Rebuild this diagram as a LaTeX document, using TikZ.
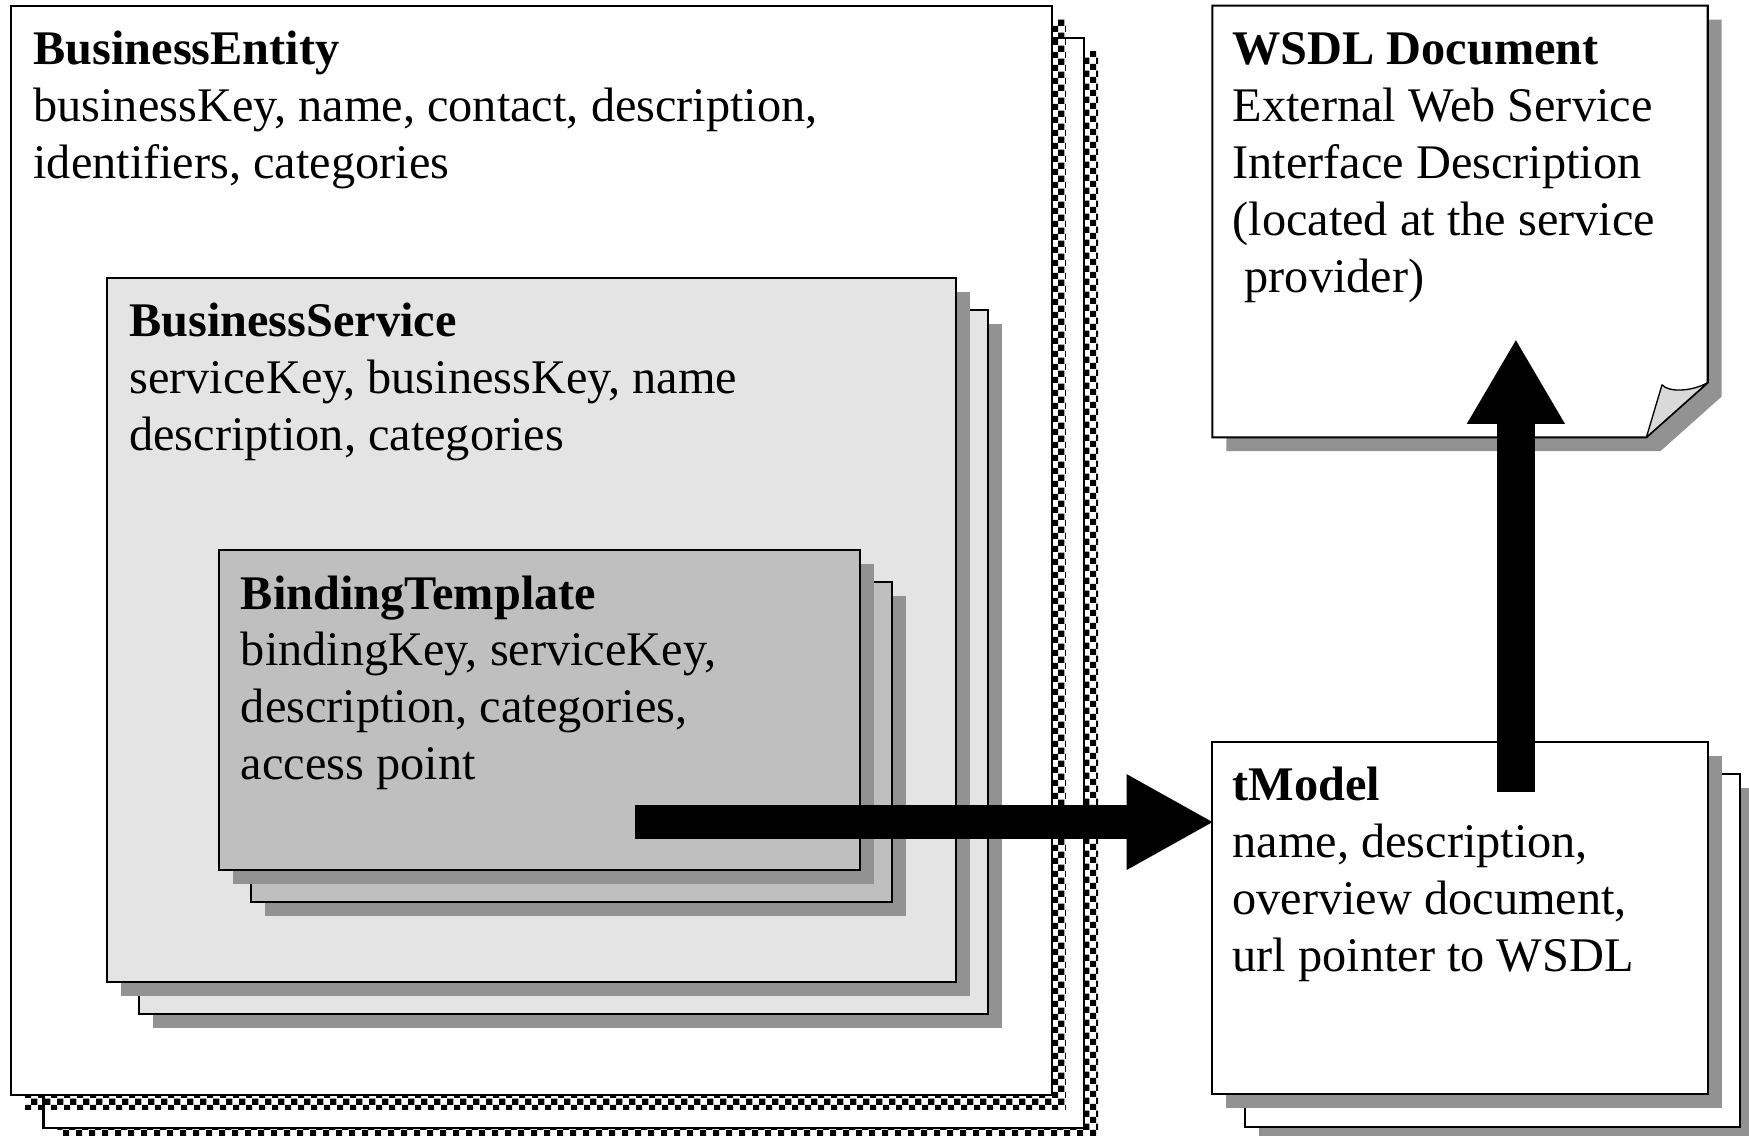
\documentclass[tikz,border=0pt]{standalone}
\usepackage{fontspec}
\setmainfont{Liberation Serif}
\usetikzlibrary{arrows.meta,patterns,shadows}
\definecolor{svcgray}{RGB}{228,228,228}
\definecolor{bindgray}{RGB}{190,191,190}
\definecolor{shgray}{RGB}{146,146,146}
\definecolor{flapgray}{RGB}{217,217,217}
\begin{document}
\begin{tikzpicture}[x=1pt,y=-1pt,
  box/.style={draw=black, line width=1.8pt, anchor=north west, inner sep=0pt, outer sep=0pt},
  grayshadow/.style={general shadow={shadow xshift=12.5pt, shadow yshift=-12.5pt, fill=shgray}},
  checkshadow/.style={general shadow={shadow xshift=12.5pt, shadow yshift=-12.5pt, pattern=checkerboard, pattern color=black}},
  txt/.style={anchor=base west, inner sep=0pt, outer sep=0pt, font=\fontsize{43.3}{51}\selectfont},
  blockarrow/.style={draw=black, line width=#1}
]
\useasboundingbox (0,0) rectangle (1568,1018);

% BusinessEntity stack
\node[box, fill=white, checkshadow, minimum width=933pt, minimum height=977pt] (beback) at (39,34) {};
\node[box, fill=white, checkshadow, minimum width=933pt, minimum height=977pt] (be) at (10,5) {};

% BusinessService stack
\node[box, fill=svcgray, grayshadow, minimum width=761pt, minimum height=631pt] (bsback) at (125,278) {};
\node[box, fill=svcgray, grayshadow, minimum width=761pt, minimum height=631pt] (bs) at (96,249) {};

% BindingTemplate stack
\node[box, fill=bindgray, grayshadow, minimum width=575pt, minimum height=287pt] (btback) at (225,522) {};
\node[box, fill=bindgray, grayshadow, minimum width=575pt, minimum height=287pt] (bt) at (196,493) {};

% tModel stack
\node[box, fill=white, grayshadow, minimum width=444pt, minimum height=316pt] (tmback) at (1116,694) {};
\node[box, fill=white, grayshadow, minimum width=444pt, minimum height=316pt] (tm) at (1087,665) {};

% WSDL document with folded corner
\node[anchor=north west, inner sep=0pt, outer sep=0pt, minimum width=444pt, minimum height=387pt] (wsdl) at (1087,5) {};
\fill[shgray] ([shift={(12.5pt,-12.5pt)}]wsdl.north west) -- ([shift={(12.5pt,-12.5pt)}]wsdl.north east)
  -- ([shift={(12.5pt,36.5pt)}]wsdl.south east) -- ([shift={(-42.5pt,-12.5pt)}]wsdl.south east)
  -- ([shift={(12.5pt,-12.5pt)}]wsdl.south west) -- cycle;
\draw[fill=white, line width=1.8pt] (wsdl.north west) -- (wsdl.north east) -- ([yshift=49pt]wsdl.south east)
  -- ([xshift=-55pt]wsdl.south east) -- (wsdl.south west) -- cycle;
\draw[fill=flapgray, line width=1.2pt, line join=round] ([xshift=-55pt]wsdl.south east)
  -- ([shift={(-41pt,47pt)}]wsdl.south east)
  .. controls ([shift={(-35pt,40pt)}]wsdl.south east) and ([shift={(-14pt,41pt)}]wsdl.south east)
  .. ([yshift=49pt]wsdl.south east) -- cycle;

% Texts
\node[txt] (betext) at (30,58) {\begin{tabular}[t]{@{}l@{}}\textbf{BusinessEntity}\\ businessKey, name, contact, description,\\ identifiers, categories\end{tabular}};
\node[txt] (bstext) at (116,302) {\begin{tabular}[t]{@{}l@{}}\textbf{BusinessService}\\ serviceKey, businessKey, name\\ description, categories\end{tabular}};
\node[txt] (bttext) at (216,546) {\begin{tabular}[t]{@{}l@{}}\textbf{BindingTemplate}\\ bindingKey, serviceKey,\\ description, categories,\\ access point\end{tabular}};
\node[txt] (wsdltext) at (1105,58) {\begin{tabular}[t]{@{}l@{}}\textbf{WSDL Document}\\ External Web Service\\ Interface Description\\ (located at the service\\ \ provider)\end{tabular}};
\node[txt] (tmtext) at (1105,718) {\begin{tabular}[t]{@{}l@{}}\textbf{tModel}\\ name, description,\\ overview document,\\ url pointer to WSDL\end{tabular}};

% Block arrows
\coordinate (hstart) at (569,737);
\draw[blockarrow=30pt, -{Triangle[length=77pt, width=86pt, line width=0pt]}] (hstart) -- (hstart -| tm.west);
\coordinate (vstart) at (1359,710);
\coordinate (vtip) at (1359,305);
\draw[blockarrow=34pt, -{Triangle[length=75pt, width=88pt, line width=0pt]}] (vstart) -- (vtip);
\end{tikzpicture}
\end{document}
